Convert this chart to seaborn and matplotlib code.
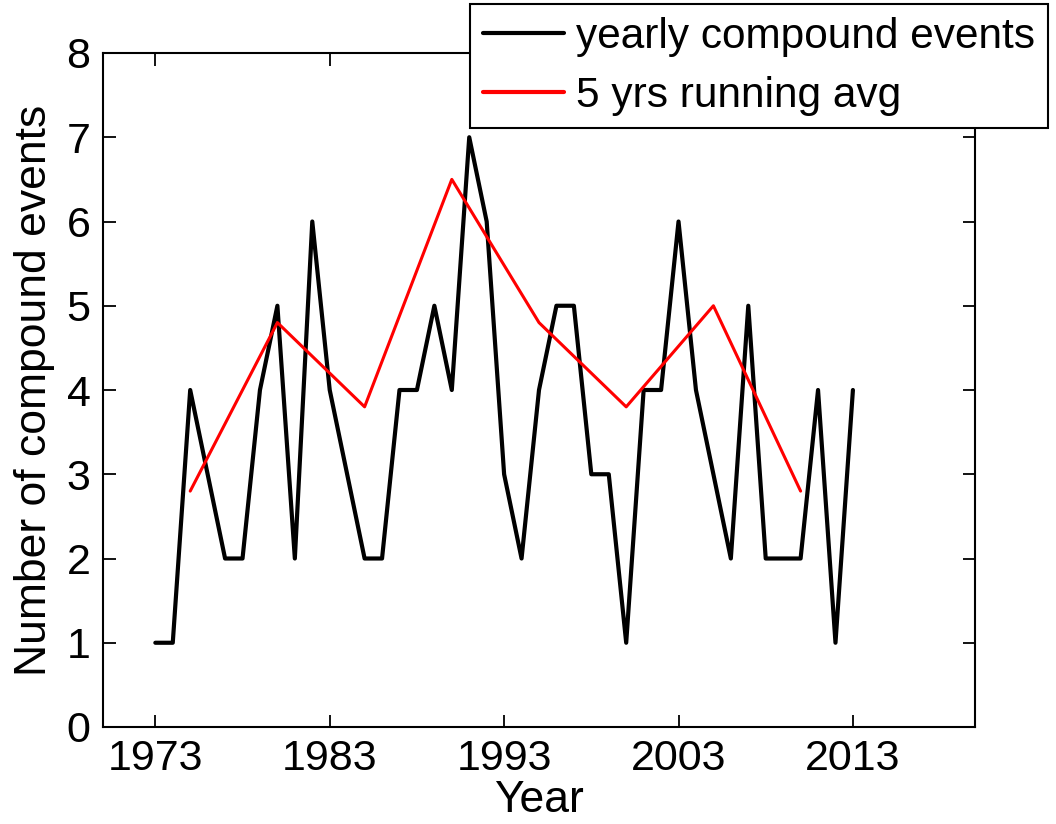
import matplotlib
matplotlib.use("Agg")
import matplotlib.pyplot as plt
import seaborn as sns
import pandas as pd

years = list(range(1973, 2014))
yearly_events = [1, 1, 4, 3, 2, 2, 4, 5, 2, 6,
                 4, 3, 2, 2, 4, 4, 5, 4, 7, 6,
                 3, 2, 4, 5, 5, 3, 3, 1, 4, 4,
                 6, 4, 3, 2, 5, 2, 2, 2, 4, 1,
                 4]
avg_years = [1975, 1980, 1985, 1990, 1995, 2000, 2005, 2010]
avg_values = [2.8, 4.8, 3.8, 6.5, 4.8, 3.8, 5.0, 2.8]
xticks = [1973, 1983, 1993, 2003, 2013]
yticks = [0, 1, 2, 3, 4, 5, 6, 7, 8]

sns.set_style("ticks")
plt.rcParams['font.family'] = ['Liberation Sans', 'DejaVu Sans']
plt.rcParams['xtick.direction'] = 'in'
plt.rcParams['ytick.direction'] = 'in'
plt.rcParams['text.color'] = 'black'
plt.rcParams['axes.labelcolor'] = 'black'
plt.rcParams['xtick.color'] = 'black'
plt.rcParams['ytick.color'] = 'black'

df1 = pd.DataFrame({"Year": years, "Events": yearly_events})
df2 = pd.DataFrame({"Year": avg_years, "Events": avg_values})

fig = plt.figure(figsize=(10.56, 8.24), dpi=100)
ax = fig.add_axes([103/1056, 1 - 727/824, (975 - 103)/1056, (727 - 53)/824])

sns.lineplot(data=df1, x="Year", y="Events", ax=ax, color="black", linewidth=3.0,
             label="yearly compound events")
sns.lineplot(data=df2, x="Year", y="Events", ax=ax, color="#ff0000", linewidth=2.2,
             label="5 yrs running avg")

ax.set_xlim(1970, 2020)
ax.set_ylim(0, 8)
ax.set_xticks(xticks)
ax.set_yticks(yticks)
ax.tick_params(axis='both', which='both', labelsize=31, length=9, width=1.3,
               top=True, right=True, pad=9)
for s in ax.spines.values():
    s.set_visible(True)
    s.set_linewidth(1.5)
    s.set_color("black")
ax.set_xlabel("Year", fontsize=32, labelpad=0)
ax.set_ylabel("Number of compound events", fontsize=32, labelpad=8)

leg = ax.legend(loc="upper right", bbox_to_anchor=(1048/1056, 1 - 4/824),
                bbox_transform=fig.transFigure, fontsize=30.5, frameon=True,
                fancybox=False, framealpha=1, edgecolor="black",
                handlelength=1.9, handletextpad=0.3, borderpad=0.3,
                labelspacing=0.45, borderaxespad=0)
leg.get_frame().set_linewidth(1.5)
for line in leg.get_lines():
    line.set_linewidth(3.0)

fig.savefig("out.png", dpi=100, facecolor="white")
